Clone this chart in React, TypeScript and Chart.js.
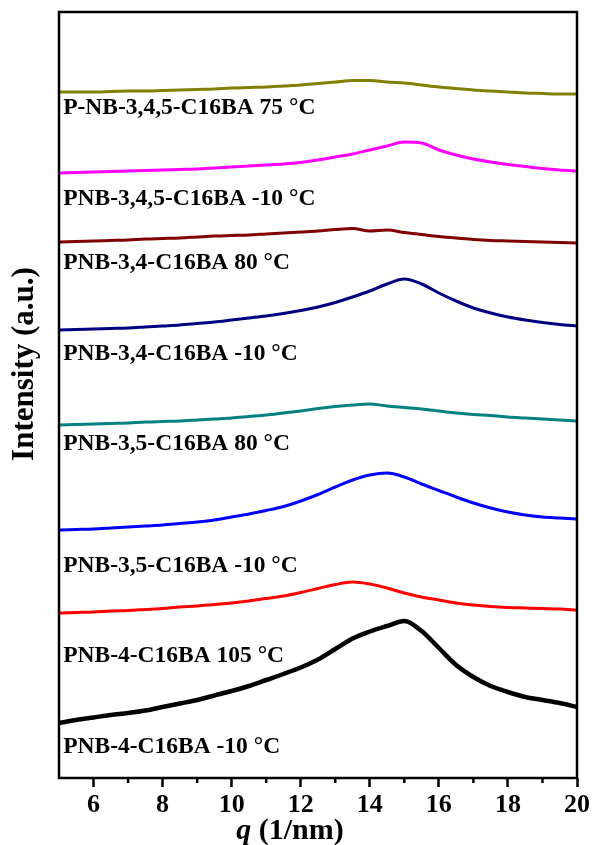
import React, { useEffect, useRef } from "react";
import { Chart, registerables } from "chart.js";

Chart.register(...registerables);

// q values (1/nm)
const qValues = [
  5, 5.5, 6, 6.5, 7, 7.5, 8, 8.5, 9, 9.5, 10, 10.5, 11, 11.5, 12, 12.5, 13, 13.5,
  14, 14.5, 15, 15.5, 16, 16.5, 17, 17.5, 18, 18.5, 19, 19.5, 20,
];

// Intensities (a.u., vertically offset traces)
const pnb345_75 = [686, 686, 686, 686.5, 687, 687, 687.5, 688, 688.5, 689, 690, 690.5, 691, 692, 693, 694.5, 696, 697.5, 697.5, 696, 695, 693, 691, 689.5, 688, 687, 686, 685, 684.5, 684, 684];
const pnb345_m10 = [605, 605.5, 606, 606.5, 607, 607.5, 608, 608.5, 609, 610, 611, 612, 613, 614, 615.5, 618, 621, 624, 628, 632, 636, 635, 628, 623, 619, 616, 613.5, 611.5, 609.5, 608, 607];
const pnb34_80 = [536, 536.5, 537, 537.5, 538, 539, 539.5, 540, 541, 542, 542.5, 543, 544, 545, 546, 547, 548.5, 549.5, 547, 548, 545.5, 543.5, 541.5, 540, 538.5, 537.5, 537, 536.5, 536, 535.5, 535];
const pnb34_m10 = [448, 448.5, 449, 449.5, 450, 451, 452, 453, 454.5, 456, 458, 460, 462, 464.5, 467.5, 471, 475.5, 481, 487, 494, 499, 494, 485, 477, 470, 465, 461, 458, 455.5, 453.5, 452];
const pnb35_80 = [353, 353.5, 354, 354.5, 355, 356, 356.5, 357, 358, 359, 360, 361.5, 363, 365, 367, 369.5, 371.5, 373, 374, 372, 370.5, 369, 367, 365, 363.5, 362.5, 361, 360, 359, 358, 357];
const pnb35_m10 = [248, 248.5, 249, 250, 251, 252, 253, 254.5, 256, 258, 261, 264, 267.5, 271.5, 277, 283.5, 291, 298, 303, 305, 301, 294, 287.5, 281, 275, 270, 266, 263, 261, 260, 259];
const pnb4_105 = [165, 165.5, 166, 167, 167.5, 168.5, 169.5, 171, 172, 173.5, 175, 177, 179.5, 182, 185.5, 189.5, 193.5, 196, 194, 190, 185, 181, 178, 175, 173, 171.5, 170.5, 170, 169.5, 169, 168];
const pnb4_m10 = [55, 58, 60.5, 63, 65, 67.5, 71, 74.5, 78, 82.5, 87, 92, 98, 104, 110.5, 118.5, 129, 139.5, 146.5, 152, 157, 147, 130, 113, 101, 92, 86, 81, 78, 75, 71];

const seriesNames = [
  "P-NB-3,4,5-C16BA 75 °C",
  "PNB-3,4,5-C16BA -10 °C",
  "PNB-3,4-C16BA 80 °C",
  "PNB-3,4-C16BA -10 °C",
  "PNB-3,5-C16BA 80 °C",
  "PNB-3,5-C16BA -10 °C",
  "PNB-4-C16BA 105 °C",
  "PNB-4-C16BA -10 °C",
];
const seriesValues = [pnb345_75, pnb345_m10, pnb34_80, pnb34_m10, pnb35_80, pnb35_m10, pnb4_105, pnb4_m10];
const seriesColors = ["#808000", "#ff00ff", "#800000", "#000080", "#008080", "#0000ff", "#ff0000", "#000000"];
const seriesWidths = [3, 3, 3, 3, 3, 3, 3, 4.5];

// label anchor (q, intensity of text baseline)
const labelQ = 5.12;
const labelIntensity = [664, 573, 509, 418, 328, 206, 116, 25];

const xMin = 5;
const xMax = 20;
const yMin = 0;
const yMax = 766;
const minorTicks = [7, 9, 11, 13, 15, 17, 19];

const SERIF = "'Liberation Serif', 'Times New Roman', serif";

const decorPlugin = {
  id: "decor",
  afterDatasetsDraw(chart: any) {
    const { ctx, chartArea } = chart;
    const xs = chart.scales.x;
    const ys = chart.scales.y;
    ctx.save();
    // curve labels
    ctx.fillStyle = "#000";
    ctx.font = `bold 23.5px ${SERIF}`;
    ctx.textBaseline = "alphabetic";
    ctx.textAlign = "left";
    seriesNames.forEach((name, i) => {
      ctx.fillText(name, xs.getPixelForValue(labelQ), ys.getPixelForValue(labelIntensity[i]));
    });
    // frame
    ctx.strokeStyle = "#000";
    ctx.lineWidth = 2.5;
    ctx.strokeRect(chartArea.left, chartArea.top, chartArea.right - chartArea.left, chartArea.bottom - chartArea.top);
    // minor ticks
    minorTicks.forEach((v) => {
      const px = xs.getPixelForValue(v);
      ctx.beginPath();
      ctx.moveTo(px, chartArea.bottom);
      ctx.lineTo(px, chartArea.bottom + 5);
      ctx.stroke();
    });
    // x title
    ctx.textBaseline = "alphabetic";
    ctx.textAlign = "left";
    const qFont = `italic bold 30px ${SERIF}`;
    const restFont = `bold 30px ${SERIF}`;
    ctx.font = qFont;
    const wq = ctx.measureText("q").width;
    ctx.font = restFont;
    const wr = ctx.measureText(" (1/nm)").width;
    const cx = 290;
    const startX = cx - (wq + wr) / 2;
    ctx.font = qFont;
    ctx.fillText("q", startX, 839);
    ctx.font = restFont;
    ctx.fillText(" (1/nm)", startX + wq, 839);
    // y title
    ctx.translate(33, 364);
    ctx.rotate(-Math.PI / 2);
    ctx.font = `bold 31px ${SERIF}`;
    ctx.textAlign = "center";
    ctx.fillText("Intensity (a.u.)", 0, 0);
    ctx.restore();
  },
};

export default function App() {
  const canvasRef = useRef<HTMLCanvasElement | null>(null);

  useEffect(() => {
    const canvas = canvasRef.current;
    if (!canvas) return;
    const datasets = seriesValues.map((vals, i) => ({
      label: seriesNames[i],
      data: qValues.map((q, j) => ({ x: q, y: vals[j] })),
      borderColor: seriesColors[i],
      backgroundColor: seriesColors[i],
      borderWidth: seriesWidths[i],
      pointRadius: 0,
      cubicInterpolationMode: "monotone",
      fill: false,
    }));
    const chart = new Chart(canvas, {
      type: "line",
      data: { datasets },
      options: {
        responsive: false,
        animation: false,
        devicePixelRatio: 1,
        layout: { padding: { left: 59, top: 12, right: 15, bottom: 0 } },
        plugins: { legend: { display: false }, tooltip: { enabled: false } },
        scales: {
          x: {
            type: "linear",
            min: xMin,
            max: xMax,
            border: { display: false },
            grid: {
              drawOnChartArea: false,
              drawTicks: true,
              tickLength: 9,
              tickWidth: 2.5,
              tickColor: "#000",
            },
            ticks: {
              stepSize: 2,
              includeBounds: false,
              color: "#000",
              padding: 3,
              maxRotation: 0,
              font: { family: SERIF, size: 26, weight: "bold" },
            },
            afterFit: (s: any) => {
              s.height = 67;
            },
          },
          y: {
            type: "linear",
            min: yMin,
            max: yMax,
            display: false,
          },
        },
      } as any,
      plugins: [decorPlugin],
    });
    return () => chart.destroy();
  }, []);

  return (
    <div style={{ position: "absolute", left: 0, top: 0, width: 593, height: 845, background: "#fff" }}>
      <canvas ref={canvasRef} width={593} height={845} style={{ display: "block", width: 593, height: 845 }} />
    </div>
  );
}
